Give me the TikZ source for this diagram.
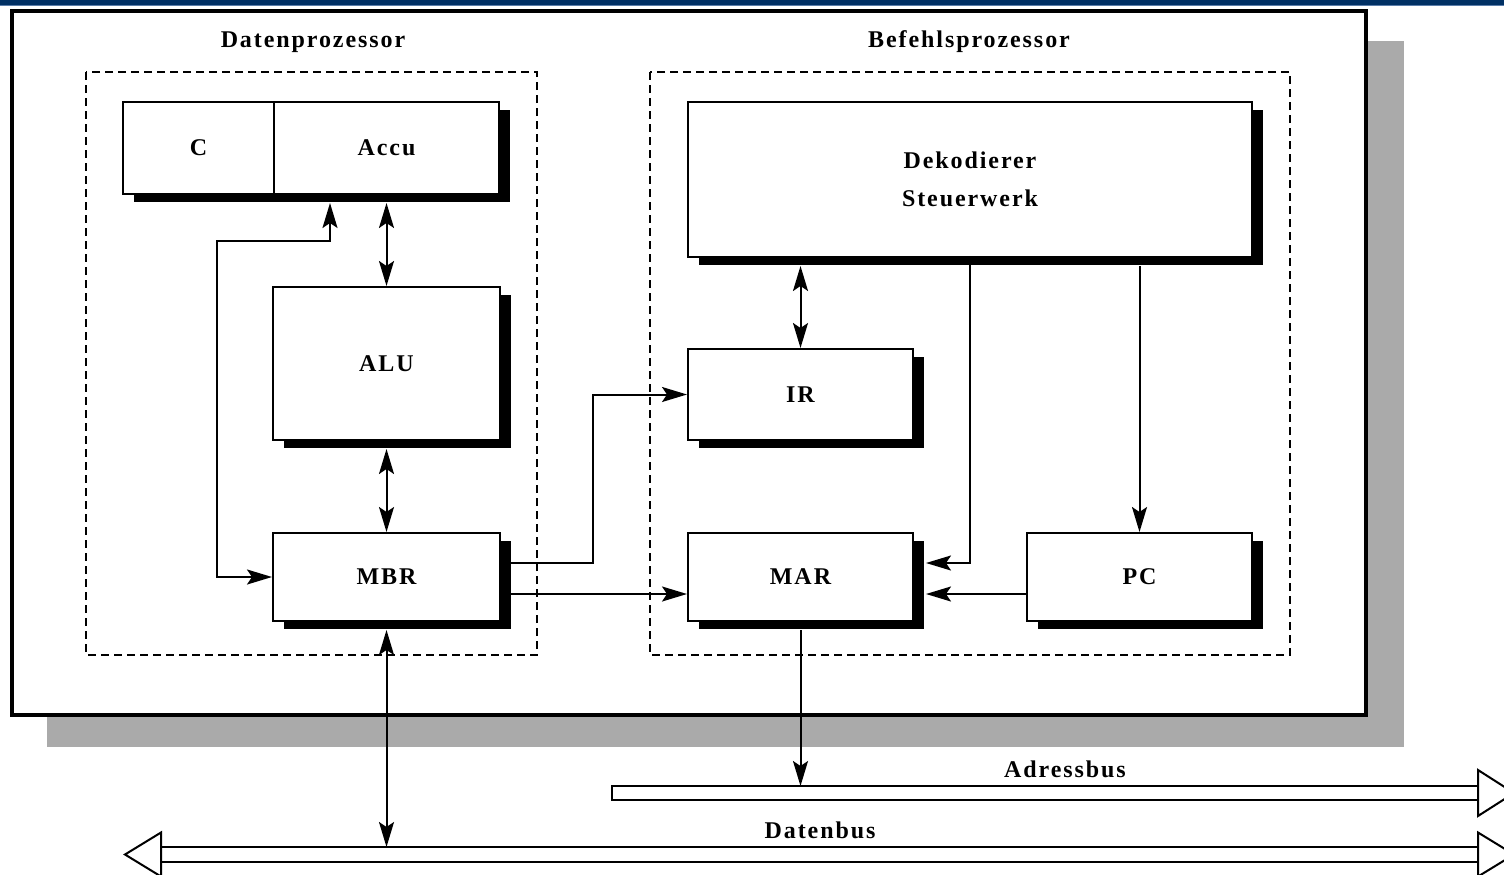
\documentclass[tikz,border=0pt]{standalone}
\usepackage{fontspec}
\setmainfont{Liberation Serif}[LetterSpace=8]
\usetikzlibrary{arrows.meta,shadows}
\definecolor{barblue}{RGB}{0,48,100}
\definecolor{barline}{RGB}{90,125,170}
\definecolor{framegray}{RGB}{170,170,170}

\begin{document}
\begin{tikzpicture}[x=1pt,y=-1pt,
  every node/.style={font=\fontsize{24}{29}\selectfont\bfseries},
  unit/.style={draw, line width=2pt, fill=white, inner sep=0pt,
    general shadow={fill=black, shadow xshift=10.5pt, shadow yshift=-8pt}},
  group/.style={draw, line width=2pt, dash pattern=on 8pt off 5pt},
  link/.style={line width=2pt, -{Stealth[length=25pt,width=15pt,inset=5pt]}},
  dlink/.style={line width=2pt, {Stealth[length=25pt,width=15pt,inset=5pt]}-{Stealth[length=25pt,width=15pt,inset=5pt]}},
  bus/.style={line width=2pt, line join=miter},
  title/.style={inner sep=0pt}
]
\useasboundingbox (0,0) rectangle (1504,875);

% header strip
\fill[barblue] (0,0) rectangle (1504,5);
\fill[barline] (0,5) rectangle (1504,6.5);

% processor frame with its grey shadow
\fill[framegray] (47,41) rectangle (1404,747);
\draw[line width=4pt, fill=white] (12,11) rectangle (1366,715);

% the two sub-processors
\draw[group] (86,72) rectangle (537,655);
\draw[group] (650,72) rectangle (1290,655);
\node[title] (tdp) at (313,42) {Datenprozessor};
\node[title] (tbp) at (969,42) {Befehlsprozessor};

% data processor units
\node[unit, minimum width=151pt, minimum height=92pt] (c) at (198.5,148) {C};
\node[unit, minimum width=225pt, minimum height=92pt] (accu) at (386.5,148) {Accu};
\node[unit, minimum width=227pt, minimum height=153pt] (alu) at (386.5,363.5) {ALU};
\node[unit, minimum width=227pt, minimum height=88pt] (mbr) at (386.5,577) {MBR};

% instruction processor units
\node[unit, minimum width=564pt, minimum height=155pt, align=center] (dek) at (970,179.5)
  {\raisebox{-6pt}{Dekodierer}\\[12pt]\raisebox{-3pt}{Steuerwerk}};
\node[unit, minimum width=225pt, minimum height=91pt] (ir) at (800.5,394.5) {IR};
\node[unit, minimum width=225pt, minimum height=88pt] (mar) at (800.5,577) {MAR};
\node[unit, minimum width=225pt, minimum height=88pt] (pc) at (1139.5,577) {PC};

% buses
\coordinate (abtop) at (800.5,786);
\coordinate (dbtop) at (386.5,847);
\draw[bus] (1478,786) -- (612,786) -- (612,800) -- (1478,800);
\draw[bus] (1478,770) -- (1514,793) -- (1478,816) -- cycle;
\draw[bus] (161,847) -- (1478,847);
\draw[bus] (161,862) -- (1478,862);
\draw[bus] (161,832.5) -- (125,854.5) -- (161,876.5) -- cycle;
\draw[bus] (1478,832.5) -- (1514,854.5) -- (1478,876.5) -- cycle;
\node (tab) at (1065,769) {Adressbus};
\node (tdb) at (820,830) {Datenbus};

% data paths
\draw[dlink, shorten <=8pt] (accu.south) -- (alu.north);
\draw[dlink, shorten <=8pt] (alu.south) -- (mbr.north);
\draw[dlink, shorten <=8pt] (mbr.south) -- (dbtop);
\draw[dlink] (mbr.west) -| (217,241) -| ([xshift=57pt,yshift=-8pt]accu.south west);
\draw[link] ([yshift=14pt]mbr.east) -| ([xshift=-94pt]ir.west) -- (ir.west);
\draw[link] ([yshift=-17pt]mbr.east) -- ([yshift=-17pt]mar.west);

% control paths
\draw[dlink, shorten <=8pt] (ir.north |- dek.south) -- (ir.north);
\draw[link, shorten >=12pt] (dek.south) |- ([yshift=14pt]mar.east);
\draw[link, shorten >=12pt] ([yshift=-17pt]pc.west) -- ([yshift=-17pt]mar.east);
\draw[link, shorten <=8pt] (pc.north |- dek.south) -- (pc.north);
\draw[link, shorten <=8pt] (mar.south) -- (abtop);
\end{tikzpicture}
\end{document}
